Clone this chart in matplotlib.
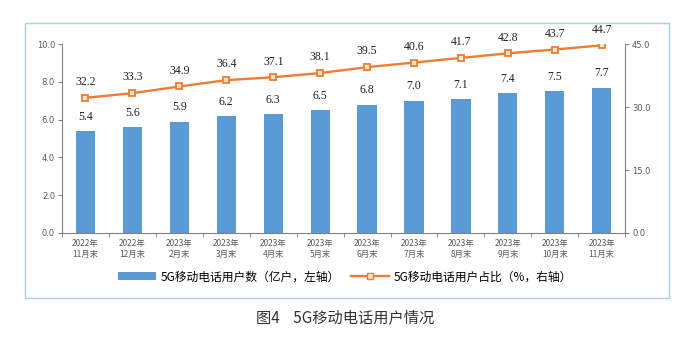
import matplotlib
matplotlib.use("Agg")
import matplotlib.pyplot as plt
from matplotlib.patches import Rectangle
from matplotlib.lines import Line2D
from matplotlib.patches import Patch

plt.rcParams['font.family'] = ['Noto Sans CJK SC', 'DejaVu Sans']

categories = ["2022年\n11月末", "2022年\n12月末", "2023年\n2月末", "2023年\n3月末",
              "2023年\n4月末", "2023年\n5月末", "2023年\n6月末", "2023年\n7月末",
              "2023年\n8月末", "2023年\n9月末", "2023年\n10月末", "2023年\n11月末"]
users = [5.4, 5.6, 5.9, 6.2, 6.3, 6.5, 6.8, 7.0, 7.1, 7.4, 7.5, 7.7]
share = [32.2, 33.3, 34.9, 36.4, 37.1, 38.1, 39.5, 40.6, 41.7, 42.8, 43.7, 44.7]
left_ticks = [0.0, 2.0, 4.0, 6.0, 8.0, 10.0]
right_ticks = [0.0, 15.0, 30.0, 45.0]

bar_color = "#5B9BD5"
line_color = "#ED7D31"
tick_color = "#595959"

fig = plt.figure(figsize=(6.9, 3.39), dpi=100)
fig.patch.set_facecolor("white")

# outer frame around chart and legend
fig.patches.append(Rectangle((0.036, 0.121), 0.934, 0.811, transform=fig.transFigure,
                             fill=False, edgecolor="#A9CFE6", linewidth=1.0))

ax = fig.add_axes([0.0899, 0.3127, 0.8161, 0.5573])
x = list(range(len(categories)))
ax.bar(x, users, width=0.41, color=bar_color, zorder=2)
ax.set_xlim(-0.5, len(categories) - 0.5)
ax.set_ylim(0, 10)
ax.set_yticks(left_ticks)
ax.set_yticklabels([f"{v:.1f}" for v in left_ticks], fontsize=6, color=tick_color,
                   family="DejaVu Sans")
ax.set_xticks(x)
ax.set_xticklabels(categories, fontsize=6, color=tick_color, linespacing=1.3)
ax.tick_params(axis="x", length=0, pad=4)
ax.set_xticks([i + 0.5 for i in range(-1, len(categories))], minor=True)
ax.tick_params(axis="x", which="minor", length=3, color="#808080", direction="out")
ax.tick_params(axis="y", length=3, color="#808080", direction="out", pad=2)
for s in ["top", "right"]:
    ax.spines[s].set_visible(False)
ax.spines["left"].set_color("#808080")
ax.spines["bottom"].set_color("#808080")
ax.spines["left"].set_linewidth(0.8)
ax.spines["bottom"].set_linewidth(0.8)

for xi, v in zip(x, users):
    ax.annotate(f"{v:.1f}", (xi, v), xytext=(0, 6), textcoords="offset points",
                ha="center", va="bottom", fontsize=8.5, family="Liberation Serif",
                color="#222222")

ax2 = ax.twinx()
ax2.set_ylim(0, 45)
ax2.plot(x, share, color=line_color, linewidth=1.7, marker="s", markersize=5,
         markerfacecolor="#FBE6D0", markeredgecolor=line_color, markeredgewidth=1.3,
         zorder=3)
ax2.set_yticks(right_ticks)
ax2.set_yticklabels([f"{v:.1f}" for v in right_ticks], fontsize=6, color=tick_color,
                    family="DejaVu Sans")
ax2.tick_params(axis="y", length=3, color="#808080", direction="out", pad=2)
for s in ["top", "left", "bottom"]:
    ax2.spines[s].set_visible(False)
ax2.spines["right"].set_color("#808080")
ax2.spines["right"].set_linewidth(0.8)

for xi, v in zip(x, share):
    ax2.annotate(f"{v:.1f}", (xi, v), xytext=(0, 7), textcoords="offset points",
                 ha="center", va="bottom", fontsize=8.5, family="Liberation Serif",
                 color="#222222")

handles = [Patch(facecolor=bar_color, edgecolor="none"),
           Line2D([0], [0], color=line_color, linewidth=1.7, marker="s", markersize=5,
                  markerfacecolor="#FBE6D0", markeredgecolor=line_color)]
labels = ["5G移动电话用户数（亿户，左轴）", "5G移动电话用户占比（%，右轴）"]
fig.legend(handles, labels, loc="center", bbox_to_anchor=(0.5, 0.183), ncol=2,
           frameon=False, fontsize=8.5, handlelength=3.2, columnspacing=1.0,
           handletextpad=0.4)

fig.text(0.5, 0.062, "图4    5G移动电话用户情况", ha="center", va="center",
         fontsize=11, color="#333333")

fig.savefig("out.png", dpi=100, facecolor="white")
